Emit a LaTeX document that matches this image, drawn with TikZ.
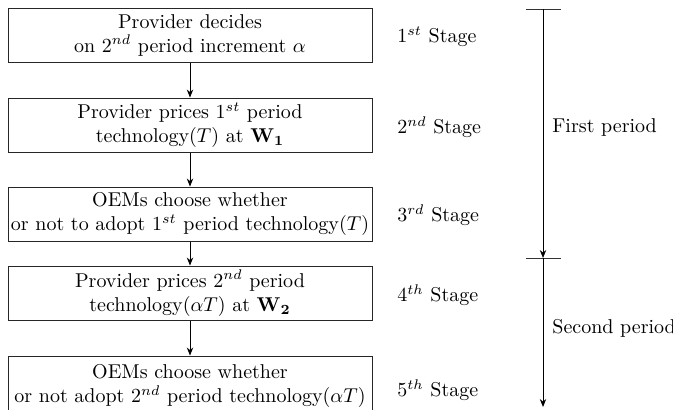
\documentclass[tikz,border=0pt]{standalone}
\usetikzlibrary{arrows.meta}
\begin{document}
\begin{tikzpicture}[x=0.5pt,y=-0.5pt,
  stagebox/.style={draw=black!85, line width=0.5pt, minimum width=182pt, minimum height=27pt,
    align=center, inner sep=0pt, font=\normalsize},
  flow/.style={-{Stealth[length=4pt,width=3.2pt]}, line width=0.45pt},
  stagelabel/.style={anchor=west, inner sep=0pt},
  tick/.style={line width=0.45pt, draw=black!80}]
\useasboundingbox (0,0) rectangle (673,409);
\begin{scope}
\clip (0,0) rectangle (673,409);
% decision boxes
\node[stagebox] (b1) at (190,35)  {Provider decides\\on $2^{nd}$ period increment $\alpha$};
\node[stagebox] (b2) at (190,125) {Provider prices $1^{st}$ period\\technology$(T)$ at $\mathbf{W_1}$};
\node[stagebox] (b3) at (190,214) {OEMs choose whether\\or not to adopt $1^{st}$ period technology$(T)$};
\node[stagebox] (b4) at (190,293) {Provider prices $2^{nd}$ period\\technology$(\alpha T)$ at $\mathbf{W_2}$};
\node[stagebox, minimum height=30pt] (b5) at (190,386) {OEMs choose whether\\or not adopt $2^{nd}$ period technology$(\alpha T)$};
\end{scope}
\draw[flow] (b1) -- (b2);
\draw[flow] (b2) -- (b3);
\draw[flow] (b3) -- (b4);
\draw[flow] (b4) -- (b5.north);
% stage labels
\node[stagelabel] (s1) at (397,37)  {$1^{st}$ Stage};
\node[stagelabel] (s2) at (397,127) {$2^{nd}$ Stage};
\node[stagelabel] (s3) at (397,215) {$3^{rd}$ Stage};
\node[stagelabel] (s4) at (397,295) {$4^{th}$ Stage};
\node[stagelabel] (s5) at (397,390) {$5^{th}$ Stage};
% time line
\coordinate (t0) at (543,9);
\coordinate (t1) at (543,258);
\coordinate (t2) at (543,407);
\coordinate (a0) at (526,9);   \coordinate (c0) at (561,9);
\coordinate (a1) at (526,258); \coordinate (c1) at (561,258);
\draw[tick] (a0) -- (c0);
\draw[tick] (a1) -- (c1);
\draw[flow] (t0) -- (t1);
\draw[flow] (t1) -- (t2);
\node[stagelabel] (p1) at (552,127) {First period};
\node[stagelabel] (p2) at (552,328) {Second period};
\end{tikzpicture}
\end{document}
